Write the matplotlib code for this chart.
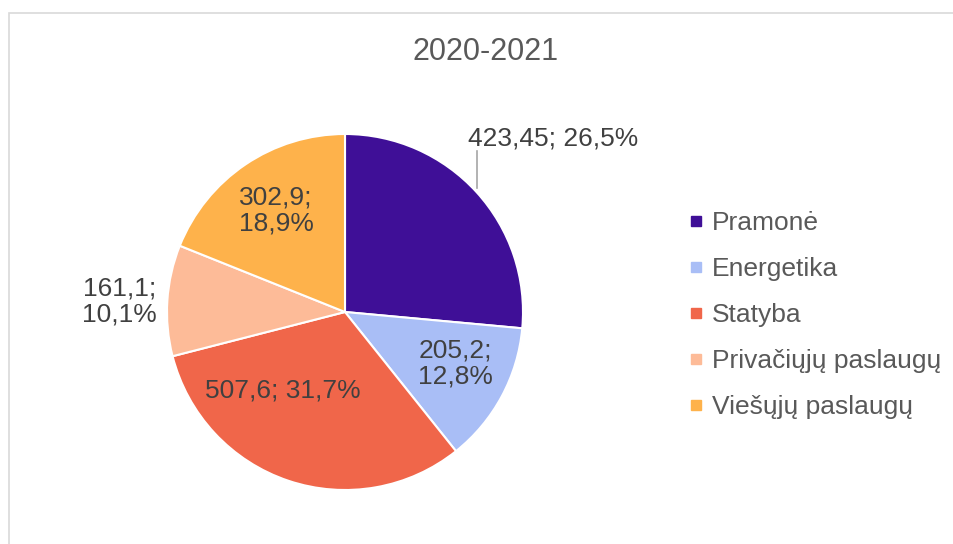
import numpy as np
import matplotlib.pyplot as plt
from matplotlib.lines import Line2D
from matplotlib.patches import Rectangle

plt.rcParams['font.family'] = ['Liberation Sans', 'DejaVu Sans']

# data
categories = ["Pramonė", "Energetika", "Statyba", "Privačiųjų paslaugų", "Viešųjų paslaugų"]
values = [423.45, 205.2, 507.6, 161.1, 302.9]
value_labels = ["423,45", "205,2", "507,6", "161,1", "302,9"]
colors = ["#3F0F97", "#A9BEF6", "#F0664A", "#FDBB98", "#FEB24B"]

# layout (pixel units, y up)
W, H = 954, 544
CENTER = (345, H - 312)
RADIUS = 178
label_dist = [1.53, 0.75, 0.55, 1.24, 0.69]
label_nudge = [(7, -10), (-7, 12), (-31, 14), (-5, -4), (0, 0)]
label_sep = ["; ", ";\n", "; ", ";\n", ";\n"]

fig = plt.figure(figsize=(W / 100, H / 100), dpi=100)
ax = fig.add_axes([0, 0, 1, 1])

# chart border
ax.add_patch(Rectangle((9.5, -20), W + 40, H - 12.5 + 20, fill=False,
                       edgecolor="#D9D9D9", linewidth=1.2))

wedges, _ = ax.pie(values, colors=colors, startangle=90, counterclock=False,
                   center=CENTER, radius=RADIUS, frame=True,
                   wedgeprops=dict(edgecolor="white", linewidth=1.5))
ax.set_xlim(0, W)
ax.set_ylim(0, H)
ax.set_aspect("equal")
ax.axis("off")

total = sum(values)
for i, w in enumerate(wedges):
    mid = np.deg2rad((w.theta1 + w.theta2) / 2)
    x = CENTER[0] + RADIUS * label_dist[i] * np.cos(mid) + label_nudge[i][0]
    y = CENTER[1] + RADIUS * label_dist[i] * np.sin(mid) + label_nudge[i][1]
    pct = f"{values[i] / total * 100:.1f}".replace(".", ",") + "%"
    ax.text(x, y, value_labels[i] + label_sep[i] + pct, ha="center", va="center",
            fontsize=19, color="#404040", linespacing=1.1)
    if i == 0:
        lx = x - 76
        ax.plot([lx, lx], [y - 13, y - 50], color="#A6A6A6", linewidth=1.2)

ax.text(486, H - 52, "2020-2021", ha="center", va="center", fontsize=22, color="#595959")

handles = [Line2D([], [], marker="s", linestyle="none", markersize=7,
                  markerfacecolor=c, markeredgecolor=c) for c in colors]
ax.legend(handles, categories, loc="center left", bbox_to_anchor=(675 / W, 1 - 315 / H),
          frameon=False, fontsize=19, labelcolor="#595959", handlelength=0.6,
          handletextpad=0.3, labelspacing=0.83, borderpad=0)

fig.savefig("out.png", dpi=100)
